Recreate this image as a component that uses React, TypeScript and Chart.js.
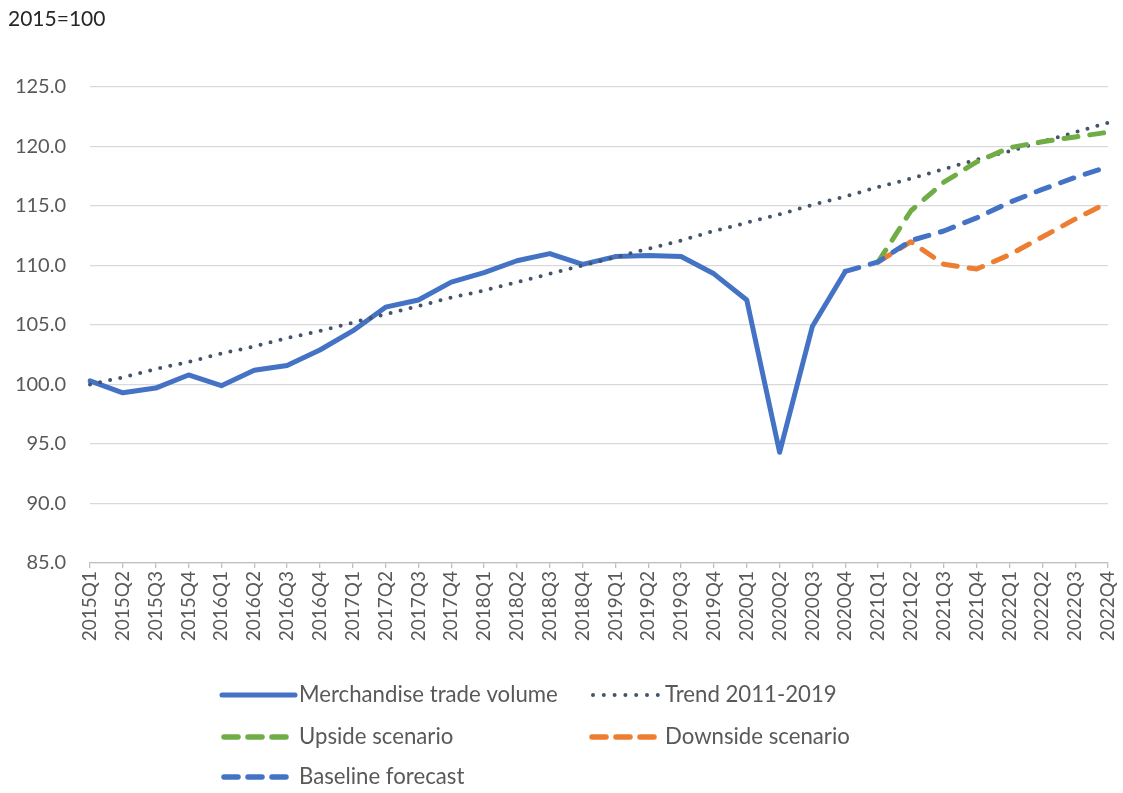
import React, { useEffect, useRef } from "react";
import { Chart, registerables } from "chart.js";

Chart.register(...registerables);

const quarters = [
  "2015Q1", "2015Q2", "2015Q3", "2015Q4",
  "2016Q1", "2016Q2", "2016Q3", "2016Q4",
  "2017Q1", "2017Q2", "2017Q3", "2017Q4",
  "2018Q1", "2018Q2", "2018Q3", "2018Q4",
  "2019Q1", "2019Q2", "2019Q3", "2019Q4",
  "2020Q1", "2020Q2", "2020Q3", "2020Q4",
  "2021Q1", "2021Q2", "2021Q3", "2021Q4",
  "2022Q1", "2022Q2", "2022Q3", "2022Q4",
];

const merchandise = [
  100.3, 99.3, 99.7, 100.8,
  99.9, 101.2, 101.6, 102.9,
  104.5, 106.5, 107.1, 108.6,
  109.4, 110.4, 111.0, 110.1,
  110.75, 110.85, 110.75, 109.3,
  107.1, 94.3, 104.9, 109.5,
  null, null, null, null,
  null, null, null, null,
];

const trend = [
  100.0, 100.6, 101.3, 101.9,
  102.6, 103.2, 103.9, 104.5,
  105.2, 105.9, 106.6, 107.3,
  107.9, 108.6, 109.3, 110.0,
  110.7, 111.4, 112.1, 112.9,
  113.6, 114.3, 115.1, 115.8,
  116.6, 117.3, 118.1, 118.9,
  119.6, 120.4, 121.2, 122.0,
];

const upside = [
  null, null, null, null, null, null, null, null,
  null, null, null, null, null, null, null, null,
  null, null, null, null, null, null, null, null,
  110.3, 114.6, 117.0, 118.7,
  119.9, 120.4, 120.8, 121.2,
];

const downside = [
  null, null, null, null, null, null, null, null,
  null, null, null, null, null, null, null, null,
  null, null, null, null, null, null, null, null,
  110.3, 112.0, 110.1, 109.7,
  110.9, 112.4, 113.9, 115.3,
];

const baseline = [
  null, null, null, null, null, null, null, null,
  null, null, null, null, null, null, null, null,
  null, null, null, null, null, null, null, 109.5,
  110.3, 112.1, 112.9, 114.0,
  115.3, 116.4, 117.4, 118.3,
];

const seriesNames = [
  "Merchandise trade volume",
  "Trend 2011-2019",
  "Upside scenario",
  "Downside scenario",
  "Baseline forecast",
];

const yTicks = [85, 90, 95, 100, 105, 110, 115, 120, 125];
const unitLabel = "2015=100";

const FONT = "Lato";
const TEXT_GRAY = "#595959";

const BLUE = "#4472C4";
const NAVY = "#44546A";
const GREEN = "#70AD47";
const ORANGE = "#ED7D31";

const PLOT_DASH = [14, 12];
const DOT_DASH = [0, 10.3];

const legendPlugin = {
  id: "customLegend",
  afterDraw(chart: any) {
    const ctx = chart.ctx;
    ctx.save();
    ctx.font = `21px ${FONT}`;
    ctx.fillStyle = "#262626";
    ctx.textAlign = "left";
    ctx.textBaseline = "middle";
    ctx.fillText(unitLabel, 8, 19);

    const items = [
      { ds: 0, x0: 222, x1: 295, tx: 299, y: 695, dash: [] as number[], w: 5, cap: "round" },
      { ds: 1, x0: 593, x1: 658, tx: 665, y: 695, dash: [0, 10.8], w: 4, cap: "round" },
      { ds: 2, x0: 224, x1: 286, tx: 299, y: 737, dash: [14, 10], w: 5.5, cap: "round" },
      { ds: 3, x0: 592, x1: 654, tx: 665, y: 737, dash: [14, 10], w: 5.5, cap: "round" },
      { ds: 4, x0: 224, x1: 286, tx: 299, y: 777, dash: [14, 10], w: 5.5, cap: "round" },
    ];
    items.forEach((it) => {
      const ds = chart.data.datasets[it.ds];
      ctx.beginPath();
      ctx.setLineDash(it.dash);
      ctx.lineCap = it.cap;
      ctx.lineWidth = it.w;
      ctx.strokeStyle = ds.borderColor;
      ctx.moveTo(it.x0, it.y);
      ctx.lineTo(it.x1, it.y);
      ctx.stroke();
      ctx.setLineDash([]);
      ctx.font = `22.2px ${FONT}`;
      ctx.fillStyle = TEXT_GRAY;
      ctx.textAlign = "left";
      ctx.textBaseline = "middle";
      ctx.fillText(ds.label, it.tx, it.y);
    });
    ctx.restore();
  },
};

export default function App() {
  const canvasRef = useRef<HTMLCanvasElement | null>(null);

  useEffect(() => {
    document.body.style.margin = "0";
    const canvas = canvasRef.current;
    if (!canvas) return;

    const chart = new Chart(canvas, {
      type: "line",
      data: {
        labels: quarters,
        datasets: [
          {
            label: seriesNames[0],
            data: merchandise,
            borderColor: BLUE,
            backgroundColor: BLUE,
            borderWidth: 5,
            pointRadius: 0,
            tension: 0,
            borderJoinStyle: "round",
            borderCapStyle: "round",
            order: 5,
          },
          {
            label: seriesNames[1],
            data: trend,
            borderColor: NAVY,
            backgroundColor: NAVY,
            borderWidth: 4,
            borderDash: DOT_DASH,
            borderCapStyle: "round",
            pointRadius: 0,
            tension: 0,
            order: 4,
          },
          {
            label: seriesNames[2],
            data: upside,
            borderColor: GREEN,
            backgroundColor: GREEN,
            borderWidth: 5,
            borderDash: PLOT_DASH,
            borderCapStyle: "round",
            borderJoinStyle: "round",
            pointRadius: 0,
            tension: 0,
            order: 3,
          },
          {
            label: seriesNames[3],
            data: downside,
            borderColor: ORANGE,
            backgroundColor: ORANGE,
            borderWidth: 5,
            borderDash: PLOT_DASH,
            borderCapStyle: "round",
            borderJoinStyle: "round",
            pointRadius: 0,
            tension: 0,
            order: 2,
          },
          {
            label: seriesNames[4],
            data: baseline,
            borderColor: BLUE,
            backgroundColor: BLUE,
            borderWidth: 5,
            borderDash: PLOT_DASH,
            borderCapStyle: "round",
            borderJoinStyle: "round",
            pointRadius: 0,
            tension: 0,
            order: 1,
          },
        ],
      },
      options: {
        responsive: true,
        maintainAspectRatio: false,
        animation: false,
        spanGaps: false,
        layout: { padding: { top: 87, right: 15, bottom: 0, left: 0 } },
        plugins: {
          legend: { display: false },
          tooltip: { enabled: false },
          title: { display: false },
        },
        scales: {
          x: {
            type: "category",
            offset: false,
            grid: {
              display: true,
              drawOnChartArea: false,
              drawTicks: true,
              tickLength: 5,
              color: "#BFBFBF",
              lineWidth: 1.3,
            },
            border: { display: true, color: "#BFBFBF", width: 1.3 },
            ticks: {
              autoSkip: false,
              minRotation: 90,
              maxRotation: 90,
              padding: 3,
              color: TEXT_GRAY,
              font: { family: FONT, size: 19 },
            },
            afterFit(scale: any) {
              scale.height = 793 - 563;
              scale.paddingRight = 0;
              scale.paddingLeft = 0;
            },
          },
          y: {
            type: "linear",
            min: 85,
            max: 125,
            afterBuildTicks(scale: any) {
              scale.ticks = yTicks.map((v) => ({ value: v }));
            },
            grid: {
              display: true,
              drawTicks: false,
              color: "#D9D9D9",
              lineWidth: 1.3,
            },
            border: { display: false },
            ticks: {
              padding: 24,
              color: TEXT_GRAY,
              font: { family: FONT, size: 20 },
              callback: (v: any) => Number(v).toFixed(1),
            },
            afterFit(scale: any) {
              scale.width = 90;
              scale.paddingTop = 0;
              scale.paddingBottom = 0;
            },
          },
        },
      },
      plugins: [legendPlugin],
    } as any);

    return () => chart.destroy();
  }, []);

  return (
    <div style={{ position: "relative", width: 1123, height: 793, background: "#fff" }}>
      <canvas ref={canvasRef} />
    </div>
  );
}
